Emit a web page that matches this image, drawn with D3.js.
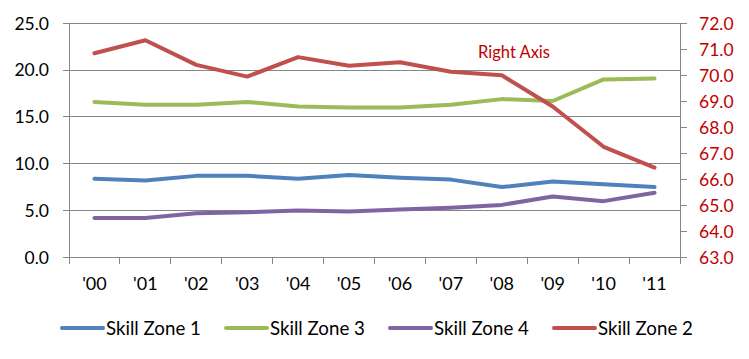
<!DOCTYPE html>
<html><head><meta charset="utf-8">
<script src="https://cdn.jsdelivr.net/npm/d3@7"></script>
<style>body{margin:0;background:#fff}svg{display:block}text{font-family:Lato,"Open Sans",sans-serif}</style>
</head><body><svg id="c" width="749" height="359"></svg>
<script>
const categories = ["'00","'01","'02","'03","'04","'05","'06","'07","'08","'09","'10","'11"];
const zone1 = [8.4,8.2,8.7,8.7,8.4,8.8,8.5,8.3,7.5,8.1,7.8,7.5];
const zone3 = [16.6,16.3,16.3,16.6,16.1,16.0,16.0,16.3,16.9,16.7,19.0,19.1];
const zone4 = [4.2,4.2,4.7,4.8,5.0,4.9,5.1,5.3,5.6,6.5,6.0,6.9];
const zone2 = [70.85,71.35,70.4,69.95,70.7,70.37,70.5,70.14,70.0,68.8,67.25,66.45];
const leftTicks = [0,5,10,15,20,25];
const rightTicks = [63,64,65,66,67,68,69,70,71,72];

const svg = d3.select("#c");
const L=69, R=680, T=23.3, B=257.3;
const x = d3.scaleBand().domain(categories).range([L,R]);
const yL = d3.scaleLinear().domain([0,25]).range([B,T]);
const yR = d3.scaleLinear().domain([63,72]).range([B,T]);
const grid="#868686";

// gridlines
svg.append("g").selectAll("line").data(leftTicks).join("line")
  .attr("x1",L-6).attr("x2",R).attr("y1",d=>yL(d)).attr("y2",d=>yL(d))
  .attr("stroke",grid).attr("stroke-width",1).attr("shape-rendering","crispEdges");
// axes lines
svg.append("line").attr("x1",L).attr("x2",L).attr("y1",T).attr("y2",B).attr("stroke",grid).attr("shape-rendering","crispEdges");
svg.append("line").attr("x1",R).attr("x2",R).attr("y1",T).attr("y2",B).attr("stroke",grid).attr("shape-rendering","crispEdges");
// x ticks at boundaries
const bounds = categories.map(c=>x(c)).concat([R]);
svg.append("g").selectAll("line").data(bounds).join("line")
  .attr("x1",d=>d).attr("x2",d=>d).attr("y1",B).attr("y2",B+7)
  .attr("stroke",grid).attr("shape-rendering","crispEdges");
// right ticks
svg.append("g").selectAll("line").data(rightTicks).join("line")
  .attr("x1",R).attr("x2",R+7).attr("y1",d=>yR(d)).attr("y2",d=>yR(d))
  .attr("stroke",grid).attr("shape-rendering","crispEdges");

// labels
svg.append("g").selectAll("text").data(leftTicks).join("text")
  .attr("x",49).attr("y",d=>yL(d)).attr("dy","0.36em").attr("text-anchor","end")
  .attr("font-size",17.5).attr("fill","#000").text(d=>d.toFixed(1));
svg.append("g").selectAll("text").data(rightTicks).join("text")
  .attr("x",699).attr("y",d=>yR(d)).attr("dy","0.36em").attr("text-anchor","start")
  .attr("font-size",17.5).attr("fill","#C00000").text(d=>d.toFixed(1));
svg.append("g").selectAll("text").data(categories).join("text")
  .attr("x",d=>x(d)+x.bandwidth()/2).attr("y",290).attr("text-anchor","middle")
  .attr("font-size",18).attr("fill","#000").text(d=>d);

const series = [
  {name:"Skill Zone 1", data:zone1, color:"#4F81BD", y:yL},
  {name:"Skill Zone 3", data:zone3, color:"#9BBB59", y:yL},
  {name:"Skill Zone 4", data:zone4, color:"#8064A2", y:yL},
  {name:"Skill Zone 2", data:zone2, color:"#C0504D", y:yR}
];
series.forEach(s=>{
  const line = d3.line().x((d,i)=>x(categories[i])+x.bandwidth()/2).y(d=>s.y(d));
  svg.append("path").attr("d",line(s.data)).attr("fill","none").attr("stroke",s.color)
    .attr("stroke-width",4).attr("stroke-linecap","round").attr("stroke-linejoin","round");
});

svg.append("text").attr("x",514).attr("y",58).attr("text-anchor","middle")
  .attr("font-size",16.5).attr("fill","#C00000").text("Right Axis");

// legend
const legX=[62,226,390,554];
series.forEach((s,i)=>{
  const g=svg.append("g").attr("transform",`translate(${legX[i]},328)`);
  g.append("line").attr("x1",0).attr("x2",41).attr("stroke",s.color).attr("stroke-width",4).attr("stroke-linecap","round");
  g.append("text").attr("x",44).attr("dy","0.36em").attr("font-size",18.7).attr("fill","#000").text(s.name);
});
</script></body></html>
